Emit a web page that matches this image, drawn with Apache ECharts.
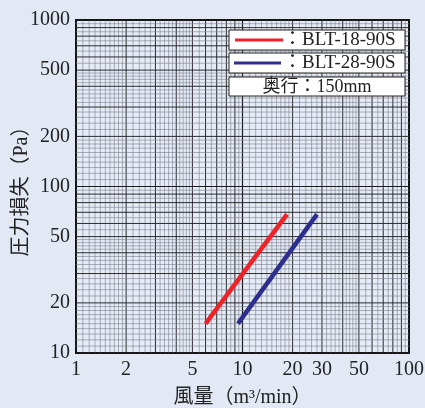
<!DOCTYPE html>
<html><head><meta charset="utf-8">
<script src="https://cdn.jsdelivr.net/npm/echarts@6/dist/echarts.min.js"></script>
<style>html,body{margin:0;padding:0;background:#e2e9f5;}#c{width:425px;height:408px;}</style>
</head><body><div id="c"></div>
<script>
// ---- data ----
const xTickLabels = [1, 2, 5, 10, 20, 30, 50, 100];
const yTickLabels = [10, 20, 50, 100, 200, 500, 1000];
const seriesNames = ['BLT-18-90S', 'BLT-28-90S'];
const red18 = [[6.0, 15], [18.5, 68]];
const blue28 = [[9.4, 15], [28.0, 68]];
const depthNote = '奥行：150mm';
const xName = '風量（m³/min）';
const yName = '圧力損失（Pa）';

// log-paper rulings (decorative grid, drawn through the axes)
function ruling(min, max) {
  const out = [];
  for (let d = min; d < max; d *= 10) {
    for (let k = 1; k < 10; k++) {
      out.push([d * k, k === 1 ? 2 : 1]);
      const step = k < 2 ? 0.1 : (k < 5 ? 0.2 : 0.5);
      for (let j = step; j < 0.999; j += step) {
        out.push([d * (k + j), 0]);
      }
    }
  }
  out.push([max, 2]);
  return out;
}
const xRule = ruling(1, 100);
const yRule = ruling(10, 1000);

const serif = '"Liberation Serif","DejaVu Serif",serif';
const cjk = '"Liberation Serif","Noto Sans CJK JP",serif';

const styleFor = l => l === 2 ? {stroke: '#1a1a1a', lineWidth: 1.2}
                : l === 1 ? {stroke: '#2a2a2a', lineWidth: 1}
                : {stroke: '#7a7e88', lineWidth: 0.6};

const chart = echarts.init(document.getElementById('c'));
chart.setOption({
  backgroundColor: '#e2e9f5',
  animation: false,
  grid: {left: 76, top: 20, width: 333, height: 333, show: true, outerBoundsMode: 'none', containLabel: false,
         backgroundColor: '#e6ecf7', borderColor: '#111', borderWidth: 2},
  xAxis: {
    type: 'log', logBase: 10, min: 1, max: 100,
    axisLine: {show: false}, axisTick: {show: false}, splitLine: {show: false},
    axisLabel: {customValues: xTickLabels, fontFamily: serif, fontSize: 20, color: '#222', margin: 7,
                formatter: v => String(Math.round(v))},
    name: xName, nameLocation: 'middle', nameGap: 35, nameMoveOverlap: false,
    nameTextStyle: {fontFamily: cjk, fontSize: 20, color: '#222'}
  },
  yAxis: {
    type: 'log', logBase: 10, min: 10, max: 1000,
    axisLine: {show: false}, axisTick: {show: false}, splitLine: {show: false},
    axisLabel: {customValues: yTickLabels, fontFamily: serif, fontSize: 20, color: '#222', margin: 6,
                formatter: v => String(Math.round(v))},
    name: yName, nameLocation: 'middle', nameGap: 44, nameRotate: 90, nameMoveOverlap: false,
    nameTextStyle: {fontFamily: cjk, fontSize: 20, color: '#222'}
  },
  series: [
    {
      type: 'custom', silent: true, z: 1,
      data: xRule,
      renderItem: (params, api) => {
        const v = api.value(0), l = api.value(1);
        const p1 = api.coord([v, 10]), p2 = api.coord([v, 1000]);
        return {type: 'line', shape: {x1: p1[0], y1: p1[1], x2: p2[0], y2: p2[1]}, style: styleFor(l)};
      }
    },
    {
      type: 'custom', silent: true, z: 1,
      data: yRule.map(r => [r[0], r[1]]),
      renderItem: (params, api) => {
        const v = api.value(0), l = api.value(1);
        const p1 = api.coord([1, v]), p2 = api.coord([100, v]);
        return {type: 'line', shape: {x1: p1[0], y1: p1[1], x2: p2[0], y2: p2[1]}, style: styleFor(l)};
      }
    },
    {type: 'line', name: seriesNames[0], data: red18, symbol: 'none', z: 5,
     lineStyle: {color: '#ee2229', width: 4.5}},
    {type: 'line', name: seriesNames[1], data: blue28, symbol: 'none', z: 5,
     lineStyle: {color: '#2c2f8e', width: 4.5}}
  ],
  graphic: [
    {type: 'rect', shape: {x: 229, y: 30, width: 176, height: 20}, style: {fill: '#fff', stroke: '#222', lineWidth: 1}, z: 10},
    {type: 'line', shape: {x1: 235, y1: 40, x2: 283, y2: 40}, style: {stroke: '#ee2229', lineWidth: 3}, z: 11},
    {type: 'text', x: 283, y: 40, style: {text: '：' + seriesNames[0], font: '19px ' + cjk, fill: '#222', verticalAlign: 'middle'}, z: 11},
    {type: 'rect', shape: {x: 229, y: 53, width: 176, height: 20}, style: {fill: '#fff', stroke: '#222', lineWidth: 1}, z: 10},
    {type: 'line', shape: {x1: 234, y1: 63, x2: 281, y2: 63}, style: {stroke: '#2c2f8e', lineWidth: 3}, z: 11},
    {type: 'text', x: 283, y: 63, style: {text: '：' + seriesNames[1], font: '19px ' + cjk, fill: '#222', verticalAlign: 'middle'}, z: 11},
    {type: 'rect', shape: {x: 229, y: 77, width: 176, height: 19}, style: {fill: '#fff', stroke: '#222', lineWidth: 1}, z: 10},
    {type: 'text', x: 317, y: 87, style: {text: depthNote, font: '18px ' + cjk, fill: '#222', align: 'center', verticalAlign: 'middle'}, z: 11}
  ]
});
</script></body></html>
